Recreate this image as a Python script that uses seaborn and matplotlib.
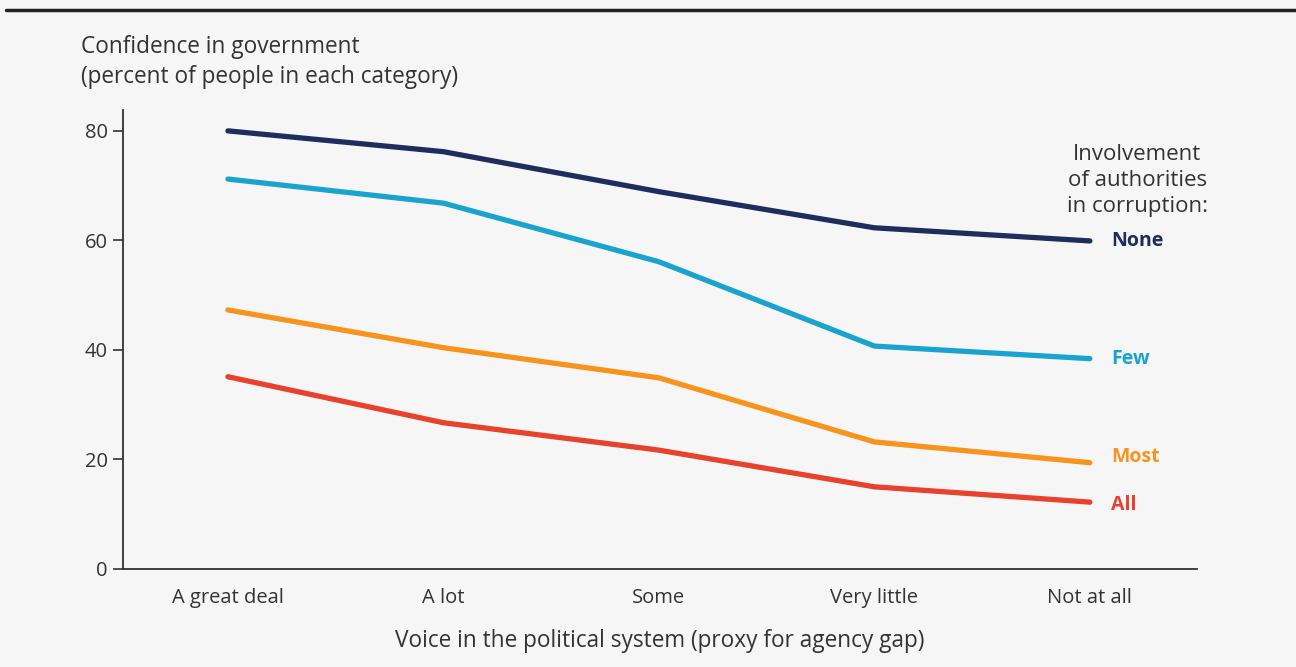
import pandas as pd
import seaborn as sns
import matplotlib.pyplot as plt

# categories on the x axis
voice = ["A great deal", "A lot", "Some", "Very little", "Not at all"]

# confidence in government (percent) by corruption involvement
none_vals = [80.0, 76.2, 68.9, 62.3, 59.9]
few_vals = [71.2, 66.8, 56.1, 40.7, 38.4]
most_vals = [47.3, 40.4, 34.9, 23.2, 19.4]
all_vals = [35.1, 26.7, 21.7, 15.0, 12.2]

groups = ["None", "Few", "Most", "All"]
colors = {"None": "#1f2d5c", "Few": "#1ba3d0", "Most": "#f7941d", "All": "#e8412c"}

df = pd.DataFrame({
    "voice": voice * 4,
    "pos": list(range(len(voice))) * 4,
    "conf": none_vals + few_vals + most_vals + all_vals,
    "group": [g for g in groups for _ in voice],
})

sns.set_style("white")
plt.rcParams["font.family"] = ["Open Sans", "DejaVu Sans"]
txt = "#333333"
bg = "#f6f6f6"

fig = plt.figure(figsize=(12.96, 6.67), dpi=100, facecolor=bg)
ax = fig.add_axes([0.0949, 0.147, 0.8287, 0.688])
ax.set_facecolor(bg)

sns.lineplot(data=df, x="pos", y="conf", hue="group", hue_order=groups,
             palette=colors, linewidth=3.8, legend=False, ax=ax,
             solid_capstyle="round")

ax.set_xlim(-0.487, 4.497)
ax.set_ylim(0, 83.8)
ax.set_xticks(range(len(voice)))
ax.set_xticklabels(voice)
ax.set_yticks([0, 20, 40, 60, 80])
ax.tick_params(axis="x", length=0, pad=14, labelsize=14.5, labelcolor=txt)
ax.tick_params(axis="y", length=7, width=1.2, color=txt, pad=4,
               labelsize=14.5, labelcolor=txt, left=True)
for s in ["top", "right"]:
    ax.spines[s].set_visible(False)
for s in ["left", "bottom"]:
    ax.spines[s].set_color(txt)
    ax.spines[s].set_linewidth(1.3)

ax.set_xlabel("Voice in the political system (proxy for agency gap)",
              fontsize=16.3, color=txt, labelpad=15)
ax.set_ylabel("")

fig.text(0.0625, 0.947, "Confidence in government\n(percent of people in each category)",
         fontsize=16.3, color=txt, va="top", ha="left", linespacing=1.33)

# right-side series labels, slightly nudged as in the original
last = {"None": none_vals[-1], "Few": few_vals[-1], "Most": most_vals[-1], "All": all_vals[-1]}
nudge = {"None": 0, "Few": 0, "Most": 1.0, "All": -0.5}
for g in groups:
    ax.text(len(voice) - 1 + 0.097, last[g] + nudge[g], g, color=colors[g], fontsize=14,
            fontweight="bold", va="center", ha="left")

ax.text(4.22, 64.2, "Involvement\nof authorities\nin corruption:", fontsize=16,
        color=txt, ha="center", va="bottom", linespacing=1.33,
        clip_on=False)

# dark rule at the top
fig.add_artist(plt.Line2D([0.005, 1.0], [0.985, 0.985], color="#222222",
                          linewidth=2.5, transform=fig.transFigure))

fig.savefig("out.png", dpi=100, facecolor=bg)
